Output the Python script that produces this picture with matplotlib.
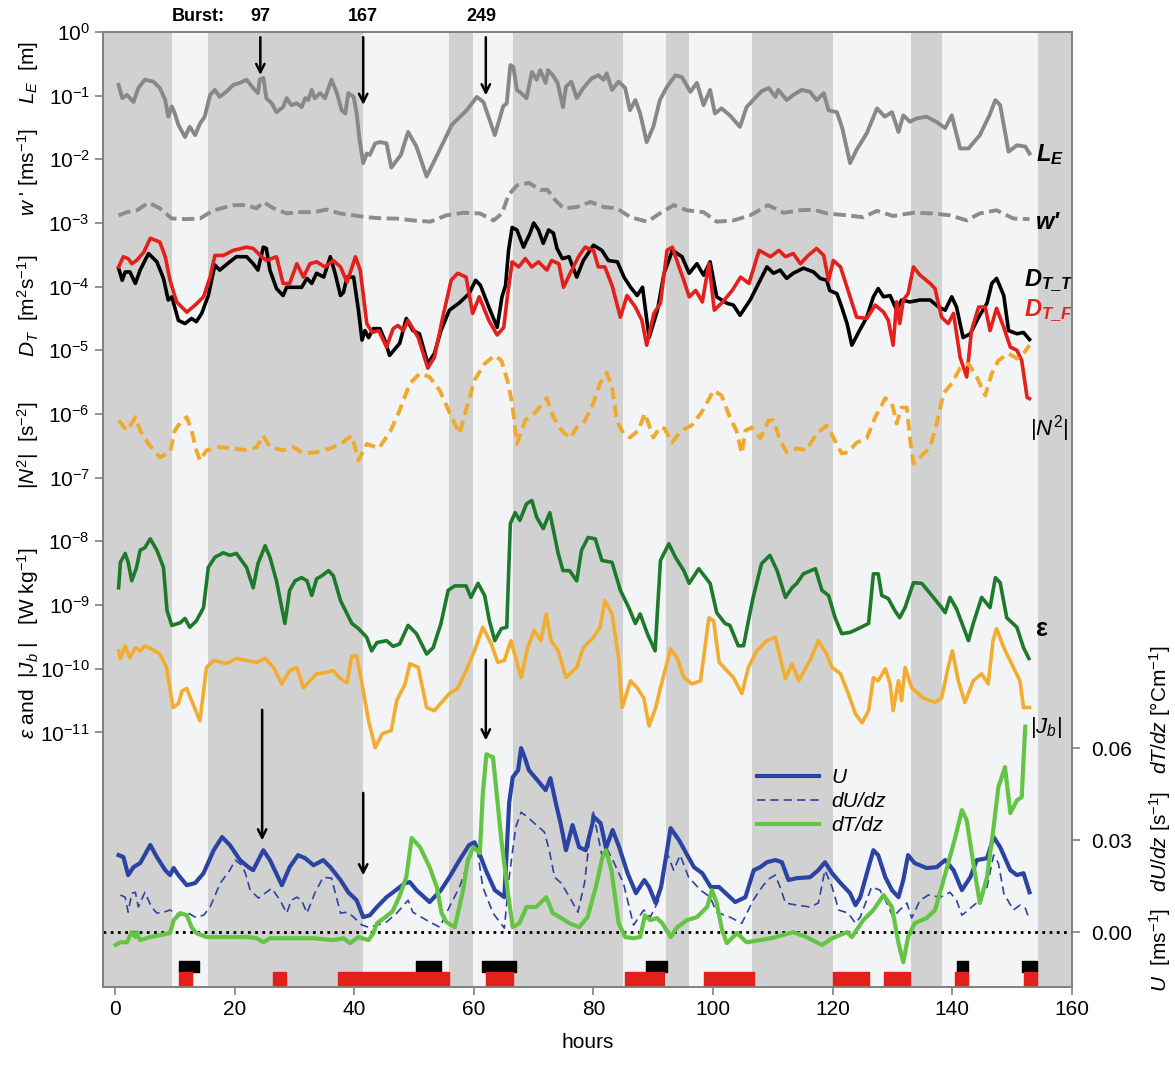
import numpy as np
import matplotlib
matplotlib.use('Agg')
import matplotlib.pyplot as plt
from matplotlib.ticker import NullLocator

plt.rcParams['font.family'] = ['Liberation Sans', 'DejaVu Sans']
plt.rcParams['mathtext.fontset'] = 'custom'
plt.rcParams['mathtext.rm'] = 'Liberation Sans'
plt.rcParams['mathtext.it'] = 'Liberation Sans:italic'
plt.rcParams['mathtext.bf'] = 'Liberation Sans:bold'
plt.rcParams['mathtext.bfit'] = 'Liberation Sans:bold:italic'

# ---------------- log-scale series: (hour, log10 value) ----------------

le = [(0.6, -0.83), (1.2, -1.04), (2.0, -0.99), (3.1, -1.10), (3.9, -0.88), (5.0, -0.75), (6.4, -0.78),
      (7.5, -0.88), (8.4, -1.07), (8.9, -1.33), (9.5, -1.17), (10.0, -1.28), (10.6, -1.46), (11.7, -1.65),
      (12.5, -1.49), (13.4, -1.62), (14.2, -1.44), (15.0, -1.33), (15.9, -0.99), (16.7, -0.91), (17.5, -1.02),
      (18.6, -0.94), (19.8, -0.83), (20.9, -0.80), (22.0, -0.75), (23.1, -0.88), (23.9, -0.96), (24.2, -0.75),
      (24.8, -0.72), (25.3, -1.04), (26.2, -1.12), (27.0, -1.26), (28.1, -1.18), (28.7, -1.04), (29.5, -1.15),
      (30.4, -1.12), (31.2, -1.18), (31.8, -1.04), (32.3, -1.07), (32.9, -0.91), (33.4, -1.04), (34.3, -0.96),
      (35.1, -1.04), (36.2, -0.75), (37.1, -0.96), (37.9, -1.23), (38.5, -1.28), (39.0, -0.96), (39.9, -1.02),
      (40.4, -1.28), (40.9, -1.70), (41.5, -2.06), (42.1, -1.91), (42.6, -1.93), (43.5, -1.75), (44.3, -1.73),
      (45.4, -1.75), (46.2, -2.13), (47.8, -1.93), (49.0, -1.57), (50.4, -1.80), (52.1, -2.27), (54.3, -1.85),
      (56.3, -1.46), (58.8, -1.23), (60.5, -1.02), (61.6, -1.10), (63.5, -1.62), (64.9, -1.17), (65.5, -1.12),
      (66.1, -0.52), (66.6, -0.55), (67.2, -0.91), (67.9, -0.96), (68.8, -1.04), (69.7, -0.63), (70.5, -0.75),
      (71.1, -0.60), (72.0, -0.80), (72.4, -0.60), (73.2, -0.68), (74.0, -0.80), (74.9, -1.18), (75.4, -0.86),
      (76.3, -0.78), (77.2, -1.04), (78.3, -0.88), (79.7, -0.73), (80.8, -0.68), (81.7, -0.75), (82.2, -0.65),
      (83.1, -0.91), (84.2, -0.78), (85.3, -0.88), (86.1, -1.23), (87.0, -1.07), (87.8, -1.28), (88.9, -1.73),
      (90.0, -1.49), (91.1, -1.07), (92.3, -0.86), (93.7, -0.68), (94.8, -0.71), (96.2, -0.94), (97.3, -0.80),
      (98.4, -1.15), (99.5, -0.91), (100.3, -1.28), (101.4, -1.20), (102.8, -1.31), (104.5, -1.49),
      (105.6, -1.18), (106.7, -1.07), (108.1, -0.93), (109.3, -0.88), (110.4, -1.02), (110.9, -0.91),
      (112.3, -1.07), (113.4, -0.99), (114.8, -0.91), (116.2, -0.94), (117.3, -1.07), (118.5, -0.96),
      (119.3, -1.23), (120.7, -1.26), (121.6, -1.51), (122.9, -2.06), (124.0, -1.85), (125.7, -1.59),
      (127.4, -1.20), (128.7, -1.33), (129.9, -1.26), (131.0, -1.57), (131.8, -1.31), (132.9, -1.41),
      (134.0, -1.36), (135.7, -1.33), (137.3, -1.41), (138.8, -1.51), (139.9, -1.31), (141.3, -1.83),
      (142.7, -1.83), (144.6, -1.62), (146.2, -1.31), (147.2, -1.07), (148.0, -1.15), (149.4, -1.88),
      (150.8, -1.78), (152.2, -1.80), (152.9, -1.91)]

w_prime = [(0.6, -2.88), (2.0, -2.83), (3.7, -2.80), (5.6, -2.68), (7.5, -2.77), (9.5, -2.93), (12.0, -2.94),
           (14.2, -2.93), (16.5, -2.80), (19.8, -2.72), (22.0, -2.72), (23.7, -2.77), (24.8, -2.67),
           (26.5, -2.77), (28.7, -2.85), (30.9, -2.83), (33.2, -2.83), (35.4, -2.79), (37.6, -2.85),
           (39.9, -2.88), (42.1, -2.91), (44.9, -2.93), (47.0, -2.93), (49.9, -2.96), (52.7, -2.98),
           (55.4, -2.88), (58.2, -2.84), (61.0, -2.85), (63.3, -2.96), (64.7, -2.85), (65.8, -2.56),
           (67.2, -2.41), (69.2, -2.37), (71.1, -2.48), (72.3, -2.48), (73.6, -2.64), (75.0, -2.77),
           (77.2, -2.75), (79.5, -2.67), (81.7, -2.75), (83.9, -2.77), (86.2, -2.91), (89.0, -2.98),
           (91.1, -2.85), (93.4, -2.72), (95.6, -2.80), (98.4, -2.83), (100.6, -2.98), (103.4, -2.96),
           (106.2, -2.88), (109.2, -2.72), (111.8, -2.84), (114.6, -2.80), (116.8, -2.79), (119.0, -2.85),
           (122.4, -2.88), (125.1, -2.91), (127.4, -2.81), (130.1, -2.89), (133.5, -2.84), (136.8, -2.85),
           (139.6, -2.88), (142.4, -2.96), (144.6, -2.85), (147.4, -2.80), (150.2, -2.93), (152.9, -2.94)]

dt_t = [(0.6, -3.71), (1.2, -3.90), (1.7, -3.77), (2.5, -3.77), (3.4, -3.95), (4.2, -3.74), (5.6, -3.48),
        (7.0, -3.61), (8.1, -3.87), (8.9, -4.21), (9.5, -4.16), (10.6, -4.53), (11.7, -4.58), (12.8, -4.50),
        (13.6, -4.55), (14.5, -4.42), (15.6, -4.14), (16.7, -3.66), (17.5, -3.74), (19.2, -3.61), (20.3, -3.53),
        (22.0, -3.53), (23.1, -3.64), (23.9, -3.74), (24.8, -3.38), (25.3, -3.40), (25.9, -3.74), (27.0, -4.03),
        (28.1, -4.14), (28.7, -4.01), (30.1, -4.01), (31.2, -4.01), (32.1, -3.87), (32.9, -3.95), (33.7, -3.79),
        (34.9, -3.85), (36.0, -3.53), (36.8, -3.79), (37.7, -4.14), (38.2, -4.09), (38.8, -3.85), (39.9, -3.85),
        (40.7, -4.37), (41.3, -4.84), (41.8, -4.69), (42.4, -4.80), (43.2, -4.66), (44.3, -4.66), (45.1, -4.84),
        (45.9, -5.08), (47.6, -4.89), (48.7, -4.50), (49.8, -4.69), (50.9, -4.74), (52.3, -5.21), (53.4, -5.05),
        (54.5, -4.69), (55.9, -4.37), (57.5, -4.26), (59.2, -4.11), (60.3, -3.90), (61.1, -3.98), (62.5, -4.32),
        (63.9, -4.64), (64.7, -4.16), (65.3, -3.98), (65.8, -3.43), (66.4, -3.07), (67.2, -3.11), (68.3, -3.38),
        (69.4, -3.16), (70.0, -3.00), (70.8, -3.11), (71.6, -3.32), (72.5, -3.11), (73.3, -3.16), (73.9, -3.40),
        (74.8, -3.56), (75.9, -3.53), (77.2, -3.85), (78.3, -3.59), (80.0, -3.35), (81.4, -3.43), (82.5, -3.59),
        (84.0, -3.61), (85.1, -3.85), (86.2, -4.01), (87.3, -4.14), (88.2, -4.01), (89.3, -4.80), (90.7, -4.37),
        (91.8, -3.79), (93.2, -3.43), (94.8, -3.53), (96.0, -3.79), (97.3, -3.64), (98.4, -3.82), (99.5, -3.61),
        (100.6, -4.16), (102.3, -4.26), (103.4, -4.29), (104.5, -4.45), (106.2, -4.21), (107.6, -3.95),
        (109.0, -3.69), (110.1, -3.79), (111.2, -3.74), (112.3, -3.87), (113.4, -3.79), (115.1, -3.71),
        (116.8, -3.77), (117.9, -3.87), (119.0, -3.90), (119.5, -4.06), (120.7, -4.11), (121.5, -4.32),
        (122.4, -4.58), (123.2, -4.92), (124.3, -4.72), (125.7, -4.48), (126.8, -4.16), (127.6, -4.03),
        (128.5, -4.16), (129.6, -4.14), (130.7, -4.37), (131.5, -4.21), (132.9, -4.24), (134.6, -4.21),
        (136.3, -4.21), (137.7, -4.32), (138.8, -4.37), (139.9, -4.16), (140.7, -4.32), (141.8, -4.80),
        (143.0, -4.74), (144.4, -4.48), (145.8, -4.26), (146.6, -3.95), (147.4, -3.87), (148.6, -4.14),
        (149.4, -4.69), (150.8, -4.74), (151.9, -4.72), (152.9, -4.83)]

dt_f = [(0.6, -3.69), (1.4, -3.53), (2.2, -3.56), (2.8, -3.64), (3.6, -3.59), (4.8, -3.46), (5.9, -3.24),
        (7.5, -3.30), (8.4, -3.53), (9.2, -3.90), (10.3, -4.24), (12.0, -4.40), (13.4, -4.29), (14.8, -4.16),
        (15.9, -3.85), (16.7, -3.51), (18.1, -3.51), (19.8, -3.43), (22.0, -3.38), (23.1, -3.40), (24.5, -3.53),
        (25.3, -3.59), (27.0, -3.53), (28.1, -3.95), (29.2, -3.95), (30.4, -3.64), (31.5, -3.85), (32.6, -3.64),
        (33.7, -3.61), (35.1, -3.69), (36.5, -3.59), (37.7, -3.69), (38.8, -3.93), (40.2, -3.53), (41.0, -3.74),
        (42.1, -4.58), (43.0, -4.72), (44.1, -4.69), (45.4, -4.95), (46.5, -4.66), (47.3, -4.61), (48.2, -4.69),
        (49.0, -4.53), (50.7, -4.80), (52.3, -5.28), (53.4, -5.11), (54.8, -4.48), (56.2, -3.90), (57.3, -3.79),
        (58.7, -3.85), (59.8, -4.42), (60.9, -4.16), (62.5, -4.53), (63.9, -4.76), (65.0, -4.64), (65.6, -4.16),
        (66.4, -3.61), (67.5, -3.69), (68.6, -3.56), (69.7, -3.69), (70.8, -3.61), (72.2, -3.74), (73.0, -3.59),
        (74.2, -3.64), (75.0, -4.01), (76.1, -3.79), (77.5, -3.53), (78.6, -3.38), (80.0, -3.43), (80.8, -3.69),
        (81.9, -3.69), (83.1, -3.98), (84.5, -4.48), (85.6, -4.14), (87.0, -4.32), (88.1, -4.53), (88.9, -4.92),
        (90.1, -4.42), (91.2, -4.26), (92.3, -3.43), (93.2, -3.38), (94.3, -3.69), (95.1, -3.90), (96.0, -4.16),
        (97.1, -4.06), (98.2, -4.24), (99.3, -3.64), (100.2, -4.37), (101.6, -4.24), (103.2, -4.06),
        (104.6, -3.85), (106.0, -3.95), (107.7, -3.43), (109.6, -3.53), (111.0, -3.43), (112.1, -3.53),
        (113.4, -3.48), (114.6, -3.64), (115.9, -3.51), (117.3, -3.40), (118.5, -3.51), (119.3, -3.90),
        (120.1, -3.59), (121.3, -3.69), (122.4, -4.01), (124.0, -4.48), (125.7, -4.50), (127.1, -4.29),
        (128.5, -4.40), (129.3, -4.53), (130.1, -4.92), (130.7, -4.24), (131.2, -4.58), (131.8, -4.21),
        (132.6, -4.11), (133.5, -3.69), (134.6, -3.82), (136.3, -3.95), (137.1, -4.03), (138.2, -4.48),
        (139.3, -4.58), (140.2, -4.42), (141.3, -5.11), (142.4, -5.42), (143.2, -4.69), (144.4, -4.32),
        (145.5, -4.32), (146.3, -4.69), (147.4, -4.34), (148.6, -4.64), (149.7, -4.95), (150.8, -5.00),
        (151.6, -5.16), (152.5, -5.74), (152.9, -5.76)]

n2 = [(0.6, -6.10), (2.0, -6.26), (2.8, -6.15), (3.4, -6.05), (4.2, -6.26), (5.6, -6.47), (7.5, -6.68),
      (9.2, -6.60), (10.0, -6.26), (11.2, -6.10), (12.0, -6.05), (12.8, -6.26), (13.6, -6.57), (14.2, -6.73),
      (15.3, -6.57), (17.5, -6.52), (19.8, -6.54), (22.0, -6.57), (23.7, -6.52), (24.8, -6.34), (25.9, -6.52),
      (28.1, -6.57), (29.8, -6.52), (31.5, -6.62), (33.7, -6.60), (36.0, -6.54), (37.7, -6.47), (39.6, -6.34),
      (40.7, -6.73), (42.1, -6.47), (44.1, -6.54), (46.0, -6.28), (47.6, -5.94), (49.3, -5.52), (51.0, -5.36),
      (52.6, -5.42), (54.3, -5.63), (56.0, -5.99), (57.6, -6.31), (58.8, -5.90), (60.1, -5.47), (61.8, -5.21),
      (63.5, -5.08), (64.6, -5.16), (65.6, -5.47), (66.4, -5.83), (67.2, -6.47), (68.6, -6.10), (70.3, -5.97),
      (72.2, -5.75), (73.3, -6.05), (74.7, -6.26), (76.1, -6.38), (77.2, -6.21), (78.3, -6.15), (79.7, -5.90),
      (81.1, -5.52), (82.2, -5.35), (83.1, -5.58), (83.9, -6.10), (85.0, -6.31), (86.1, -6.37), (87.5, -6.26),
      (88.6, -5.99), (90.0, -6.37), (91.1, -6.21), (91.9, -6.23), (93.1, -6.45), (94.7, -6.26), (96.4, -6.18),
      (98.1, -5.97), (100.1, -5.63), (101.4, -5.71), (102.8, -6.05), (103.9, -6.26), (104.8, -6.62),
      (105.4, -6.26), (106.5, -6.21), (107.9, -6.38), (109.3, -6.10), (110.1, -6.10), (111.2, -6.42),
      (112.3, -6.60), (114.0, -6.54), (115.6, -6.57), (117.3, -6.31), (119.0, -6.18), (120.1, -6.37),
      (121.5, -6.62), (122.6, -6.60), (124.0, -6.45), (125.7, -6.38), (127.1, -6.05), (128.8, -5.75),
      (129.9, -5.83), (130.7, -6.15), (131.5, -5.90), (132.4, -5.90), (132.9, -6.37), (133.5, -6.78),
      (134.6, -6.68), (136.3, -6.52), (137.4, -6.15), (138.5, -5.68), (139.9, -5.52), (141.3, -5.28),
      (142.7, -5.21), (144.1, -5.42), (145.5, -5.71), (146.6, -5.36), (147.7, -5.16), (149.4, -5.05),
      (150.8, -5.13), (151.9, -5.05), (152.9, -4.92)]

eps = [(0.6, -8.73), (0.9, -8.33), (1.7, -8.19), (2.2, -8.33), (2.8, -8.62), (3.6, -8.41), (4.2, -8.14),
       (5.0, -8.10), (5.9, -7.96), (7.0, -8.14), (8.1, -8.41), (8.7, -9.09), (9.5, -9.32), (10.9, -9.28),
       (11.7, -9.21), (12.5, -9.35), (13.6, -9.25), (14.8, -9.04), (15.6, -8.41), (16.7, -8.25), (18.1, -8.18),
       (19.2, -8.22), (20.3, -8.19), (22.0, -8.41), (23.1, -8.73), (23.9, -8.35), (25.1, -8.07), (25.9, -8.25),
       (27.0, -8.62), (28.4, -9.29), (29.2, -8.77), (30.1, -8.62), (31.2, -8.57), (32.1, -8.62), (32.9, -8.85),
       (33.7, -8.59), (34.6, -8.54), (35.7, -8.46), (36.5, -8.54), (37.7, -8.93), (39.6, -9.29), (40.7, -9.37),
       (42.1, -9.51), (42.9, -9.72), (43.8, -9.59), (45.4, -9.56), (46.5, -9.65), (47.6, -9.61), (49.0, -9.32),
       (50.4, -9.45), (52.1, -9.77), (53.2, -9.67), (54.5, -9.29), (55.7, -8.77), (56.8, -8.70), (58.7, -8.70),
       (59.5, -8.88), (60.7, -8.66), (61.8, -8.85), (62.6, -9.25), (63.5, -9.56), (64.6, -9.37), (65.5, -9.35),
       (66.1, -7.72), (66.9, -7.55), (67.7, -7.67), (68.8, -7.41), (69.7, -7.36), (70.5, -7.62), (71.6, -7.80),
       (72.7, -7.55), (74.1, -8.19), (74.9, -8.46), (76.0, -8.46), (77.2, -8.62), (78.0, -8.14), (79.1, -7.94),
       (80.3, -7.96), (81.4, -8.30), (83.1, -8.33), (84.5, -8.77), (85.9, -9.04), (87.0, -9.29), (87.8, -9.14),
       (89.0, -9.45), (90.3, -9.72), (91.2, -8.30), (92.6, -8.04), (93.7, -8.25), (95.1, -8.46), (96.0, -8.66),
       (97.6, -8.43), (99.5, -8.66), (100.6, -9.12), (102.0, -9.29), (102.8, -9.32), (104.2, -9.64),
       (105.1, -9.64), (105.9, -9.25), (106.7, -8.88), (108.1, -8.35), (109.5, -8.22), (110.7, -8.46),
       (112.1, -8.88), (113.2, -8.73), (114.0, -8.66), (115.1, -8.51), (117.1, -8.43), (118.2, -8.77),
       (119.3, -8.85), (120.4, -9.20), (121.5, -9.45), (122.9, -9.43), (124.3, -9.37), (126.0, -9.29),
       (126.8, -8.51), (127.6, -8.51), (128.2, -8.85), (129.3, -8.90), (130.4, -9.09), (131.2, -9.20),
       (132.1, -9.04), (133.5, -8.65), (134.9, -8.66), (136.3, -8.82), (138.2, -9.04), (138.8, -9.12),
       (139.6, -8.88), (140.7, -9.06), (142.7, -9.56), (143.5, -9.29), (144.9, -8.88), (146.3, -9.04),
       (147.2, -8.57), (148.0, -8.65), (149.1, -9.20), (150.8, -9.35), (151.9, -9.67), (152.8, -9.84)]

jb = [(0.6, -9.72), (0.9, -9.84), (1.7, -9.64), (2.5, -9.83), (3.4, -9.67), (4.2, -9.72), (5.0, -9.64),
      (6.1, -9.69), (7.5, -9.77), (8.6, -9.98), (9.7, -10.61), (10.6, -10.55), (11.2, -10.35), (12.0, -10.31),
      (12.8, -10.50), (14.2, -10.82), (15.3, -9.98), (16.5, -9.87), (18.6, -9.92), (20.3, -9.84), (22.0, -9.87),
      (23.7, -9.90), (25.1, -9.84), (26.5, -9.98), (27.9, -10.24), (29.2, -10.03), (30.4, -9.98),
      (31.5, -10.30), (32.6, -10.19), (33.7, -10.08), (35.1, -10.06), (36.5, -10.03), (37.7, -10.16),
      (38.8, -10.22), (39.6, -9.80), (40.4, -9.80), (41.3, -10.24), (42.4, -10.82), (43.5, -11.24),
      (44.7, -11.02), (46.2, -10.97), (47.1, -10.50), (48.5, -10.24), (49.3, -9.92), (50.7, -9.98),
      (52.1, -10.61), (53.4, -10.66), (55.9, -10.39), (57.3, -10.31), (58.7, -10.03), (60.1, -9.72),
      (61.5, -9.35), (62.9, -9.61), (64.0, -9.90), (65.1, -9.87), (66.2, -9.56), (67.9, -10.14), (69.0, -9.67),
      (70.1, -9.40), (71.2, -9.56), (72.1, -9.14), (72.9, -9.56), (74.1, -9.72), (75.4, -10.14), (77.2, -9.98),
      (78.3, -9.67), (80.0, -9.51), (81.1, -9.35), (81.9, -8.93), (83.1, -9.14), (84.2, -9.83), (84.8, -10.61),
      (86.2, -10.19), (87.3, -10.30), (88.4, -10.46), (89.3, -10.90), (90.4, -10.61), (91.2, -10.30),
      (92.9, -9.69), (94.0, -9.83), (95.1, -10.14), (96.5, -10.24), (97.9, -10.19), (99.3, -9.20),
      (100.1, -9.25), (101.0, -9.90), (102.3, -10.03), (103.4, -10.14), (104.8, -10.39), (105.9, -9.98),
      (107.3, -9.72), (109.0, -9.56), (110.4, -9.51), (112.1, -10.16), (113.2, -9.92), (114.3, -10.19),
      (116.2, -9.87), (117.6, -9.56), (119.0, -9.77), (119.9, -9.98), (121.3, -10.08), (122.6, -10.39),
      (123.8, -10.71), (124.9, -10.85), (126.0, -10.66), (126.8, -10.14), (127.6, -10.19), (128.8, -10.00),
      (129.6, -10.24), (130.1, -10.66), (131.0, -10.19), (131.5, -10.50), (132.1, -9.98), (133.2, -10.30),
      (135.1, -10.46), (137.1, -10.53), (138.2, -10.46), (139.3, -9.98), (140.0, -9.72), (141.0, -10.19),
      (142.1, -10.53), (143.5, -10.19), (144.9, -10.08), (146.0, -10.24), (146.8, -9.56), (147.4, -9.37),
      (148.6, -9.67), (150.2, -9.98), (151.3, -10.19), (151.9, -10.61), (152.9, -10.61)]

# ---------------- linear series on the right axis: (hour, value) ----------------

u = [(0.6, .0251), (1.4, .0245), (2.2, .0186), (3.1, .0212), (4.2, .0225), (5.9, .0284), (7.0, .0245),
     (8.4, .0202), (9.2, .0186), (9.8, .0209), (10.6, .0186), (12.0, .0153), (13.4, .0160), (14.8, .0192),
     (16.5, .0267), (17.9, .0310), (19.2, .0284), (20.9, .0235), (22.3, .0212), (23.1, .0202), (24.8, .0267),
     (25.9, .0235), (27.9, .0153), (29.2, .0212), (30.6, .0251), (31.8, .0241), (33.2, .0218), (34.8, .0235),
     (36.0, .0212), (37.7, .0170), (39.0, .0130), (40.4, .0104), (41.5, .0049), (42.6, .0055), (43.8, .0082),
     (45.4, .0114), (46.5, .0130), (48.5, .0160), (49.3, .0163), (50.4, .0137), (52.6, .0098), (54.5, .0137),
     (55.9, .0179), (57.6, .0235), (59.2, .0284), (60.1, .0293), (60.9, .0258), (62.0, .0202), (63.5, .0137),
     (65.1, .0114), (65.9, .0421), (66.5, .0505), (67.4, .0528), (67.9, .0600), (68.5, .0570), (69.2, .0528),
     (70.6, .0496), (72.0, .0463), (72.8, .0502), (73.7, .0421), (74.5, .0355), (75.4, .0267), (76.5, .0349),
     (77.6, .0277), (78.7, .0267), (80.1, .0375), (81.2, .0355), (82.1, .0274), (83.2, .0333), (84.3, .0277),
     (85.7, .0192), (87.1, .0127), (88.5, .0170), (89.3, .0147), (90.4, .0095), (91.3, .0147), (92.9, .0339),
     (94.3, .0300), (95.4, .0261), (96.8, .0212), (98.2, .0192), (99.6, .0147), (101.0, .0147),
     (103.7, .0098), (105.4, .0114), (106.8, .0202), (107.9, .0212), (109.0, .0228), (110.4, .0235),
     (111.5, .0228), (112.6, .0170), (114.0, .0176), (116.2, .0179), (117.6, .0202), (118.7, .0228),
     (119.9, .0192), (121.3, .0160), (122.9, .0127), (123.8, .0088), (124.6, .0114), (126.0, .0212),
     (126.8, .0267), (127.6, .0251), (128.8, .0179), (129.9, .0137), (131.0, .0114), (131.8, .0170),
     (132.6, .0251), (133.7, .0225), (135.7, .0209), (137.4, .0212), (138.8, .0235), (140.2, .0202),
     (141.6, .0137), (143.0, .0179), (144.1, .0235), (145.8, .0241), (146.9, .0310), (148.0, .0277),
     (149.7, .0202), (150.8, .0186), (151.9, .0192), (152.9, .0130)]

du_dz = [(0.9, .0121), (1.7, .0114), (2.2, .0065), (2.8, .0127), (3.4, .0130), (3.9, .0082), (5.0, .0130),
         (6.1, .0082), (7.0, .0062), (8.1, .0065), (9.2, .0072), (10.9, .0055), (12.0, .0065), (13.4, .0049),
         (14.8, .0055), (15.9, .0082), (17.6, .0160), (19.2, .0202), (20.1, .0235), (21.2, .0218),
         (21.8, .0192), (22.6, .0137), (24.0, .0111), (25.1, .0127), (26.2, .0143), (27.6, .0104),
         (28.7, .0062), (29.5, .0104), (30.4, .0114), (31.2, .0104), (32.1, .0062), (33.4, .0127),
         (34.8, .0179), (36.2, .0176), (37.7, .0062), (38.8, .0065), (39.9, .0049), (41.3, .0023),
         (42.4, .0016), (43.8, .0023), (45.4, .0033), (47.1, .0062), (49.0, .0104), (49.8, .0065),
         (52.1, .0039), (54.3, .0016), (55.9, .0082), (57.6, .0147), (59.2, .0235), (60.4, .0290),
         (61.5, .0147), (63.2, .0062), (65.1, .0013), (65.9, .0179), (67.0, .0342), (67.9, .0391),
         (69.0, .0375), (70.1, .0355), (70.9, .0342), (71.8, .0326), (72.6, .0267), (73.5, .0179),
         (74.6, .0160), (76.0, .0114), (77.4, .0065), (78.5, .0160), (79.9, .0398), (81.4, .0251),
         (82.2, .0274), (83.4, .0228), (85.0, .0160), (86.7, .0023), (88.4, .0072), (89.5, .0049),
         (90.9, .0104), (92.3, .0258), (93.4, .0202), (94.5, .0251), (95.9, .0179), (97.9, .0137),
         (99.5, .0114), (100.6, .0065), (102.8, .0049), (104.8, .0029), (106.7, .0104), (108.4, .0153),
         (109.5, .0176), (110.4, .0186), (111.2, .0147), (112.1, .0095), (114.0, .0088), (116.2, .0082),
         (117.6, .0095), (118.7, .0202), (119.9, .0147), (121.0, .0072), (122.6, .0062), (123.8, .0029),
         (124.6, .0049), (126.5, .0147), (127.9, .0137), (128.8, .0104), (130.1, .0049), (131.2, .0072),
         (132.4, .0095), (133.2, .0046), (134.6, .0104), (136.0, .0121), (138.0, .0114), (139.6, .0130),
         (140.7, .0104), (141.6, .0055), (143.0, .0078), (144.6, .0104), (145.8, .0147), (146.9, .0251),
         (147.7, .0225), (148.6, .0127), (150.2, .0072), (151.3, .0088), (152.2, .0078), (152.8, .0046)]

dt_dz = [(0.1, -.0042), (0.9, -.0033), (2.0, -.0033), (2.8, .0000), (3.4, -.0016), (3.6, .0000),
         (4.2, -.0026), (5.9, -.0016), (7.5, -.0010), (9.2, -.0003), (9.8, .0039), (10.9, .0062),
         (12.0, .0055), (12.8, .0016), (13.6, -.0003), (15.3, -.0016), (18.7, -.0016), (22.0, -.0016),
         (23.7, -.0020), (24.8, -.0033), (25.9, -.0020), (29.2, -.0020), (33.2, -.0020), (36.5, -.0026),
         (38.2, -.0020), (39.3, -.0036), (40.7, -.0016), (42.4, -.0026), (43.2, -.0003), (43.8, .0029),
         (45.2, .0049), (46.4, .0068), (47.5, .0114), (48.7, .0179), (49.6, .0307), (51.0, .0277),
         (52.6, .0212), (53.8, .0147), (54.6, .0062), (55.4, .0033), (56.8, .0016), (58.2, .0137),
         (59.0, .0235), (59.9, .0277), (61.0, .0258), (61.5, .0453), (62.1, .0580), (63.2, .0570),
         (64.6, .0300), (65.7, .0127), (66.5, .0016), (67.6, .0029), (68.8, .0082), (70.4, .0082),
         (71.6, .0104), (72.1, .0114), (73.2, .0062), (74.6, .0046), (76.0, .0029), (77.6, .0016),
         (79.0, .0049), (80.4, .0147), (81.5, .0245), (82.1, .0267), (83.0, .0202), (84.2, .0029),
         (85.3, -.0016), (86.7, -.0020), (87.8, -.0016), (88.6, .0055), (89.5, .0039), (90.6, .0046),
         (91.5, .0029), (92.9, -.0016), (94.0, .0016), (95.6, .0039), (97.3, .0049), (99.0, .0082),
         (99.8, .0137), (100.6, .0095), (101.5, .0007), (102.3, -.0036), (104.0, -.0003), (105.6, -.0033),
         (107.9, -.0026), (110.1, -.0018), (113.4, .0000), (115.6, -.0016), (118.2, -.0042), (119.9, -.0020),
         (122.4, .0000), (123.2, -.0016), (125.1, .0039), (126.8, .0072), (128.5, .0121), (129.9, .0082),
         (131.0, -.0036), (131.8, -.0098), (132.6, -.0016), (133.7, .0029), (135.7, .0046), (137.1, .0072),
         (138.2, .0147), (139.6, .0245), (140.5, .0310), (141.6, .0398), (142.4, .0365), (143.5, .0225),
         (144.6, .0095), (145.8, .0179), (146.9, .0342), (147.7, .0473), (148.8, .0538), (149.7, .0388),
         (150.8, .0430), (151.6, .0440), (152.0, .0600), (152.2, .0670)]

# day/night shading boundaries (hours), starting with a dark band
band_edges = [-2, 9.5, 15.5, 41.5, 55.9, 59.9, 66.6, 84.9, 92.1, 96.0, 106.5, 120.1, 133.1, 138.3, 154.3, 160]

# event bars along the bottom: (start hour, duration)
black_events = [(10.7, 3.3), (50.3, 4.2), (61.4, 5.7), (88.8, 3.5), (140.8, 1.8), (151.7, 2.5)]
red_events = [(10.7, 2.2), (26.4, 2.2), (37.3, 11.2), (48.7, 7.2), (62.0, 4.6), (85.3, 6.5), (98.5, 8.4),
              (120.1, 6.0), (128.6, 4.3), (140.5, 2.1), (152.0, 2.2)]

# burst numbers and the hour they occur at
bursts = [('97', 24.3), ('167', 41.5), ('249', 62.0)]


def split(series):
    h, v = zip(*series)
    return np.array(h), np.array(v)


fig = plt.figure(figsize=(11.75, 10.65), dpi=100)
ax = fig.add_axes([0.0877, 0.0732, 0.8246, 0.8968])
ax2 = ax.twinx()

for i in range(len(band_edges) - 1):
    ax.axvspan(band_edges[i], band_edges[i + 1], color='#d1d1d1' if i % 2 == 0 else '#f3f4f6', lw=0, zorder=0)

h, v = split(le)
ax.plot(h, 10 ** v, color='#888888', lw=2.8)
h, v = split(w_prime)
ax.plot(h, 10 ** v, color='#8c8c8c', lw=2.8, dashes=(3.2, 1.4))
h, v = split(dt_t)
ax.plot(h, 10 ** v, color='black', lw=2.6)
h, v = split(dt_f)
ax.plot(h, 10 ** v, color='#e3201b', lw=2.6)
h, v = split(n2)
ax.plot(h, 10 ** v, color='#f0a92e', lw=2.8, dashes=(3.0, 1.6))
h, v = split(eps)
ax.plot(h, 10 ** v, color='#1d7a2b', lw=2.6)
h, v = split(jb)
ax.plot(h, 10 ** v, color='#f2ad30', lw=2.6)

ax.set_yscale('log')
ax.set_ylim(1e-15, 1)
ax.set_xlim(-2, 160)
ax.set_yticks([10.0 ** -k for k in range(12)])
ax.yaxis.set_minor_locator(NullLocator())
ax.set_xticks(range(0, 161, 20))
ax.tick_params(axis='both', labelsize=15, color='#808080', length=6, width=1.2)
ax.set_xlabel('hours', fontsize=15, labelpad=10)
for s in ax.spines.values():
    s.set_color('#808080')
    s.set_linewidth(1.2)

# right-axis quantities
ax2.axhline(0, color='black', lw=2, ls=(0, (1, 1.6)))
h, v = split(u)
ax2.plot(h, v, color='#2b44a3', lw=3, label='U')
h, v = split(du_dz)
ax2.plot(h, v, color='#2b44a3', lw=1.2, dashes=(5, 3), label='dU/dz')
h, v = split(dt_dz)
ax2.plot(h, v, color='#64c443', lw=3, label='dT/dz')

ax2.broken_barh(black_events, (-0.0095, -0.0036), color='black')
ax2.broken_barh(red_events, (-0.0131, -0.0049), color='#e3201b')

ax2.set_ylim(-0.0179, 0.2935)
ax2.set_yticks([0, 0.03, 0.06])
ax2.set_yticklabels(['0.00', '0.03', '0.06'])
ax2.tick_params(axis='y', labelsize=15, color='#808080', length=6, width=1.2, pad=8)
for s in ax2.spines.values():
    s.set_color('#808080')
    s.set_linewidth(1.2)

ax2.legend(loc='upper left', bbox_to_anchor=(0.666, 0.238), frameon=False,
           prop={'style': 'italic', 'size': 15}, handlelength=3.0, labelspacing=0.25,
           handletextpad=0.6, borderaxespad=0)

# arrows marking bursts
arrow_kw = dict(arrowstyle='->,head_length=0.6,head_width=0.3', color='black', lw=1.8)
top_ends = [-0.72, -1.19, -1.04]
for (name, hr), end in zip(bursts, top_ends):
    ax.annotate('', xy=(hr, 10 ** end), xytext=(hr, 10 ** -0.04), arrowprops=arrow_kw, annotation_clip=False)
    ax.text(hr - (0.8 if name == '249' else 0), 1.016, name, transform=ax.get_xaxis_transform(),
            ha='center', va='center', fontsize=13, fontweight='bold')
ax.text(13.9, 1.016, 'Burst:', transform=ax.get_xaxis_transform(), ha='center', va='center',
        fontsize=13, fontweight='bold')

bottom_arrows = [(24.6, 0.0734, 0.0290), (41.5, 0.0463, 0.0176), (62.0, 0.0897, 0.0616)]
for hr, y0, y1 in bottom_arrows:
    ax2.annotate('', xy=(hr, y1), xytext=(hr, y0), arrowprops=arrow_kw)

# series labels at the right end
ax.text(154.0, 10 ** -1.93, r'$\mathbfit{L_E}$', fontsize=17, va='center', ha='left')
ax.text(154.0, 10 ** -2.99, "w'", fontsize=17, va='center', ha='left', fontweight='bold', fontstyle='italic')
ax.text(152.0, 10 ** -3.90, r'$\mathbfit{D_{T\_T}}$', fontsize=17, va='center', ha='left')
ax.text(152.0, 10 ** -4.37, r'$\mathbfit{D_{T\_F}}$', fontsize=17, va='center', ha='left', color='#e3201b')
ax.text(153.0, 10 ** -6.23, r'|$N^2$|', fontsize=16, va='center', ha='left')
ax.text(154.0, 10 ** -9.37, 'ε', fontsize=18, va='center', ha='left', fontweight='bold')
ax.text(153.0, 10 ** -10.93, r'|$J_b$|', fontsize=16, va='center', ha='left')

# stacked y-axis labels on the left
left_labels = [(r'$L_E$  [m]', 0.9315), (r"$w$ ' [ms$^{-1}$]", 0.8385),
               (r'$D_T$  [m$^2$s$^{-1}$]', 0.7127), (r'|$N^2$|  [s$^{-2}$]', 0.5822),
               (r'$\varepsilon$ and  |$J_b$ |   [W kg$^{-1}$]', 0.3962)]
for txt, yf in left_labels:
    fig.text(0.024, yf, txt, rotation=90, ha='center', va='center', fontsize=15)

fig.text(0.987, 0.231, r'$U$  [ms$^{-1}$]   $dU/dz$ [s$^{-1}$]   $dT/dz$ [°Cm$^{-1}$]',
         rotation=90, ha='center', va='center', fontsize=15)

fig.savefig('out.png', dpi=100)
